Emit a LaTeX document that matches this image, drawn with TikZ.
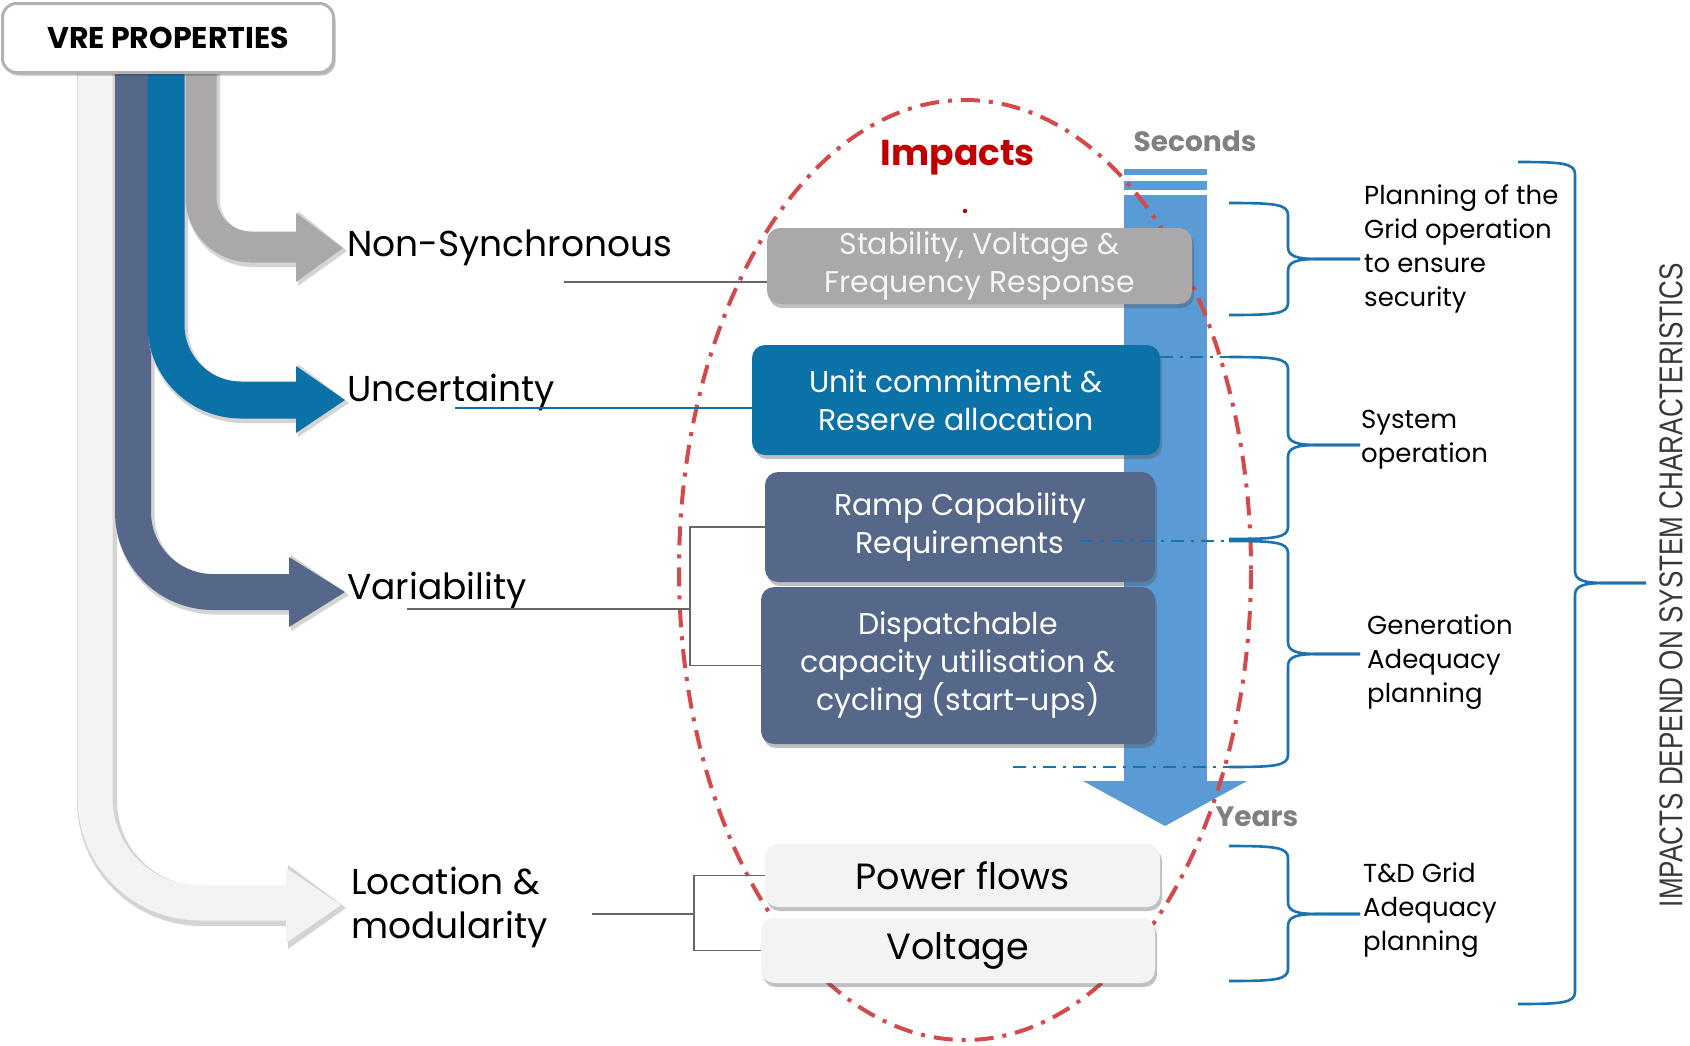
\documentclass[tikz,border=0pt]{standalone}
\usepackage{fontspec}
\setmainfont{Poppins}
\newfontfamily\condfont[FakeStretch=0.79]{Liberation Sans}
\usetikzlibrary{shadows,calc}
\definecolor{slate}{HTML}{56688A}
\definecolor{ublue}{HTML}{0B72A8}
\definecolor{agray}{HTML}{AAA8A8}
\definecolor{alight}{HTML}{F3F3F3}
\definecolor{tbar}{HTML}{5B9BD5}
\definecolor{ired}{HTML}{C00000}
\definecolor{ellred}{HTML}{D44A4C}
\definecolor{brblue}{HTML}{1A72AE}
\definecolor{shd}{HTML}{D4D4D4}
\newcommand\fs[2]{\fontsize{#1}{#2}\selectfont}
\newcommand\cbrace[6]{%
  \draw[bracestyle] (#1,#4) .. controls (#2-14,#4) and (#2,#4+1) .. (#2,#4+12) -- (#2,#5-12) .. controls (#2,#5-3) and (#2+8,#5) .. (#2+30,#5) -- (#3,#5);
  \draw[bracestyle] (#3,#5) -- (#2+30,#5) .. controls (#2+8,#5) and (#2,#5+3) .. (#2,#5+12) -- (#2,#6-12) .. controls (#2,#6-1) and (#2-14,#6) .. (#1,#6);}
\tikzset{
  lab/.style={anchor=west, align=left, font=\fs{36}{44}, text=black, inner sep=0pt},
  impbox/.style={rounded corners=13pt, align=center, text=white, font=\fs{30}{38},
     drop shadow={shadow xshift=2pt, shadow yshift=-4pt, opacity=0.35, fill=black!70}},
  brtxt/.style={anchor=west, align=left, font=\fs{26}{34}, inner sep=0pt},
  conn/.style={draw=black!60, line width=1.3pt},
  bracestyle/.style={draw=brblue, line width=2.6pt},
  dd/.style={draw=brblue, line width=2.8pt, dash pattern=on 13pt off 7pt on 3pt off 7pt},
  timelab/.style={font=\fs{28}{30}\bfseries, text=black!50},
}
\begin{document}
\begin{tikzpicture}[x=1pt,y=-1pt]
\fill[white] (0,0) rectangle (1690,1045);
\useasboundingbox (0,0) rectangle (1690,1045);

% ---- property arrows ----
% light
\draw[shd, line width=40pt, rounded corners=105pt] (97,60) -- (97,906) -- (292,906);
\fill[shd] (288,865) -- (346,908) -- (288,949) -- cycle;
\draw[alight, line width=35pt, rounded corners=105pt] (95,60) -- (95,903) -- (290,903);
\fill[alight] (286,868) -- (341,905) -- (286,943) -- cycle;
% slate
\draw[shd, line width=39pt, rounded corners=80pt] (135,60) -- (135,595) -- (293,595);
\fill[shd] (291,555) -- (349,595) -- (291,631) -- cycle;
\draw[slate, line width=36pt, rounded corners=80pt] (133,60) -- (133,592) -- (292,592);
\fill[slate] (289,557) -- (345,592) -- (289,627) -- cycle;
% blue
\draw[shd, line width=40pt, rounded corners=75pt] (168,60) -- (168,403) -- (300,403);
\fill[shd] (298,364) -- (349,403) -- (298,437) -- cycle;
\draw[ublue, line width=37pt, rounded corners=75pt] (166,60) -- (166,400) -- (299,400);
\fill[ublue] (296,366) -- (345,400) -- (296,433) -- cycle;
% gray
\draw[shd, line width=34pt, rounded corners=50pt] (203,60) -- (203,250) -- (300,250);
\fill[shd] (298,211) -- (347,251) -- (298,286) -- cycle;
\draw[agray, line width=31pt, rounded corners=50pt] (201,60) -- (201,247) -- (299,247);
\fill[agray] (296,213) -- (343,248) -- (296,282) -- cycle;

% VRE box
\node[draw=black!30, line width=3pt, rounded corners=14pt, fill=white, minimum width=331pt, minimum height=69pt,
  font=\fs{30}{32}\bfseries, drop shadow={shadow xshift=2pt, shadow yshift=-3pt, opacity=0.25, fill=black}] (vre) at (168,38) {VRE PROPERTIES};

% property labels
\node[lab] (ns) at (347,248) {Non-Synchronous};
\node[lab] (unc) at (347,392) {Uncertainty};
\node[lab] (var) at (347,590) {Variability};
\node[lab] (loc) at (351,907) {Location \&\\modularity};

% ---- time bar ----
\fill[tbar] (1124,169) rectangle (1207,175);
\fill[tbar] (1124,181) rectangle (1207,190);
\fill[tbar] (1124,195) rectangle (1207,782);
\fill[tbar] (1083,781) -- (1247,781) -- (1165,826) -- cycle;
\node[timelab] (sec) at (1195,141) {Seconds};
\node[timelab] (yrs) at (1257,817) {Years};

% ---- impacts ellipse ----
\draw[ellred, line width=4pt, dash pattern=on 19pt off 9pt on 4pt off 9pt] (965,570) ellipse [x radius=286, y radius=470];
\node[font=\fs{36}{40}\bfseries, text=ired] (imp) at (958,158) {Impacts};
\fill[ired] (965,211) circle (2.2pt);

% ---- impact boxes ----
\node[impbox, fill=agray, minimum width=425pt, minimum height=76pt, text=white!96!black] (stab) at (979.5,266) {\raisebox{-3pt}{\parbox{380pt}{\centering Stability, Voltage \&\\Frequency Response}}};
\node[impbox, fill=ublue, minimum width=408pt, minimum height=110pt] (uc) at (956,400) {Unit commitment \&\\Reserve allocation};
\node[impbox, fill=slate, minimum width=390pt, minimum height=110pt] (ramp) at (960,527) {Ramp Capability\\Requirements};
\node[impbox, fill=slate, minimum width=394pt, minimum height=157pt] (disp) at (958,665.5) {Dispatchable\\capacity utilisation \&\\cycling (start-ups)};
\node[impbox, fill=alight, text=black, font=\fs{36.5}{40}, minimum width=395pt, minimum height=63pt] (pf) at (962.5,875.5) {Power flows};
\node[impbox, fill=alight, text=black, font=\fs{36.5}{40}, minimum width=394pt, minimum height=65pt] (volt) at (958,950.5) {Voltage};

% ---- connectors ----
\coordinate (nsl) at (564,282);
\draw[conn] (nsl) -- (nsl -| stab.west);
\coordinate (unl) at (455,408);
\draw[conn, draw=ublue] (unl) -- (unl -| uc.west);
\coordinate (varl) at (407,609);
\coordinate (vbr) at (690,609);
\draw[conn] (varl) -- (vbr);
\draw[conn] (ramp.west) -- (ramp.west -| vbr) |- (disp.west);
\coordinate (locl) at (592,914);
\coordinate (lbr) at (694,914);
\draw[conn] (locl) -- (lbr);
\draw[conn] (pf.west) -- (pf.west -| lbr) |- (volt.west);

% ---- dash-dot separators ----
\coordinate (s1) at (1229,357);
\coordinate (s2) at (1229,541);
\coordinate (s3) at (1229,767);
\draw[dd] (s1 -| uc.east) -- (s1);
\draw[dd] (1081,541) -- (s2);
\draw[dd] (1013,767) -- (s3);

% ---- braces ----
\cbrace{1229}{1288}{1360}{203}{259}{315}
\cbrace{1229}{1288}{1360}{357}{445}{539}
\cbrace{1229}{1288}{1360}{541}{654}{767}
\cbrace{1229}{1288}{1360}{846}{914}{981}
\cbrace{1518}{1575}{1646}{162}{583}{1004}

\node[brtxt] (b1) at (1364,249) {Planning of the\\Grid operation\\to ensure\\security};
\node[brtxt] (b2) at (1361,440) {System\\operation};
\node[brtxt] (b3) at (1367,662) {Generation\\Adequacy\\planning};
\node[brtxt] (b4) at (1363,910) {T\&D Grid\\Adequacy\\planning};
\node[rotate=90, font=\condfont\fs{33}{36}, text=black!78] (side) at (1671,585) {IMPACTS DEPEND ON SYSTEM CHARACTERISTICS};
\end{tikzpicture}
\end{document}
